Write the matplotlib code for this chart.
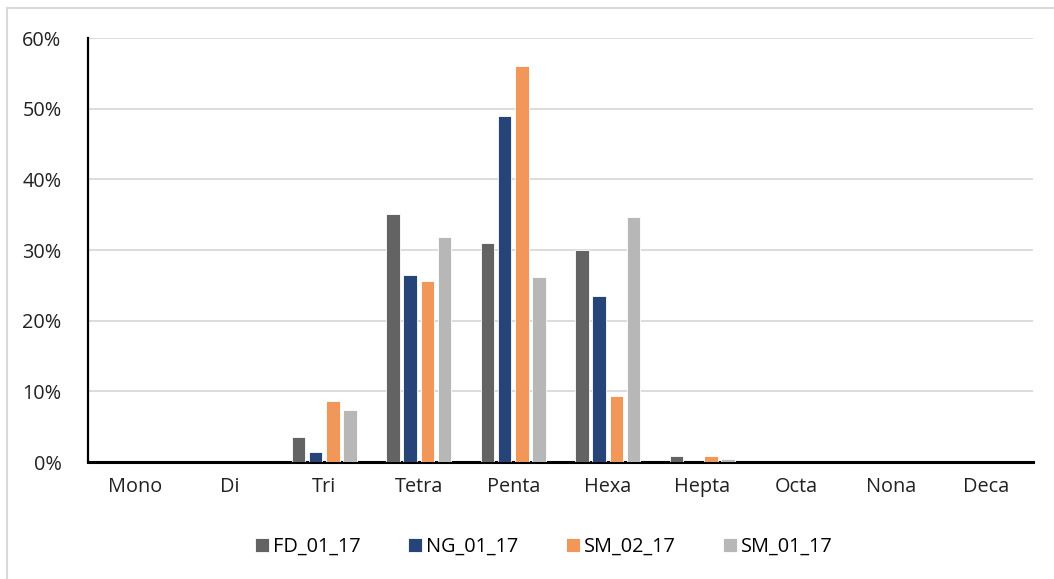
import matplotlib
matplotlib.use("Agg")
import matplotlib.pyplot as plt
import numpy as np
from matplotlib.ticker import FuncFormatter
from matplotlib.lines import Line2D

categories = ["Mono", "Di", "Tri", "Tetra", "Penta", "Hexa", "Hepta", "Octa", "Nona", "Deca"]
series_names = ["FD_01_17", "NG_01_17", "SM_02_17", "SM_01_17"]
fd_01_17 = [0, 0, 3.5, 35.1, 31.0, 30.0, 0.8, 0, 0, 0]
ng_01_17 = [0, 0, 1.4, 26.4, 48.9, 23.5, 0, 0, 0, 0]
sm_02_17 = [0, 0, 8.6, 25.6, 56.1, 9.3, 0.8, 0, 0, 0]
sm_01_17 = [0, 0, 7.3, 31.8, 26.2, 34.6, 0.4, 0, 0, 0]
colors = ["#636363", "#264478", "#F1975A", "#B7B7B7"]

plt.rcParams['font.family'] = ['Open Sans', 'DejaVu Sans']
FS = 14.3

fig = plt.figure(figsize=(10.54, 5.79), dpi=100)
ax = fig.add_axes([88/1054, 1-462/579, (1033-88)/1054, (462-38)/579])

x = np.arange(len(categories))
width = 0.143
step = 0.183
for i, (vals, name, c) in enumerate(zip([fd_01_17, ng_01_17, sm_02_17, sm_01_17], series_names, colors)):
    ax.bar(x + (i - 1.5) * step, vals, width=width, color=c, label=name,
           edgecolor="white", linewidth=0.6, zorder=3)

ax.set_xlim(-0.5, len(categories) - 0.5)
ax.set_ylim(0, 60)
ax.set_yticks(np.arange(0, 61, 10))
ax.yaxis.set_major_formatter(FuncFormatter(lambda v, p: f"{int(v)}%"))
ax.set_xticks(x)
ax.set_xticklabels(categories)
ax.tick_params(axis='both', length=0, labelsize=FS, colors="#222222")
ax.tick_params(axis='x', pad=11)
ax.tick_params(axis='y', pad=19)
ax.grid(axis='y', color="#D9D9D9", linewidth=1.3, zorder=0)
for s in ["top", "right"]:
    ax.spines[s].set_visible(False)
ax.spines["left"].set_color("black")
ax.spines["left"].set_linewidth(1.6)
ax.spines["bottom"].set_color("black")
ax.spines["bottom"].set_linewidth(2.2)

leg = fig.legend(loc="center", bbox_to_anchor=(544/1054, 1-547/579), ncol=4, frameon=False,
                 fontsize=FS, handlelength=0.7, handleheight=0.7, handletextpad=0.2,
                 columnspacing=2.4)

# outer chart frame
fig.add_artist(Line2D([7/1054, 1], [1-8/579, 1-8/579], color="#D9D9D9", linewidth=1.5, transform=fig.transFigure))
fig.add_artist(Line2D([7/1054, 7/1054], [0, 1-8/579], color="#D9D9D9", linewidth=1.5, transform=fig.transFigure))

fig.savefig("out.png", dpi=100)
